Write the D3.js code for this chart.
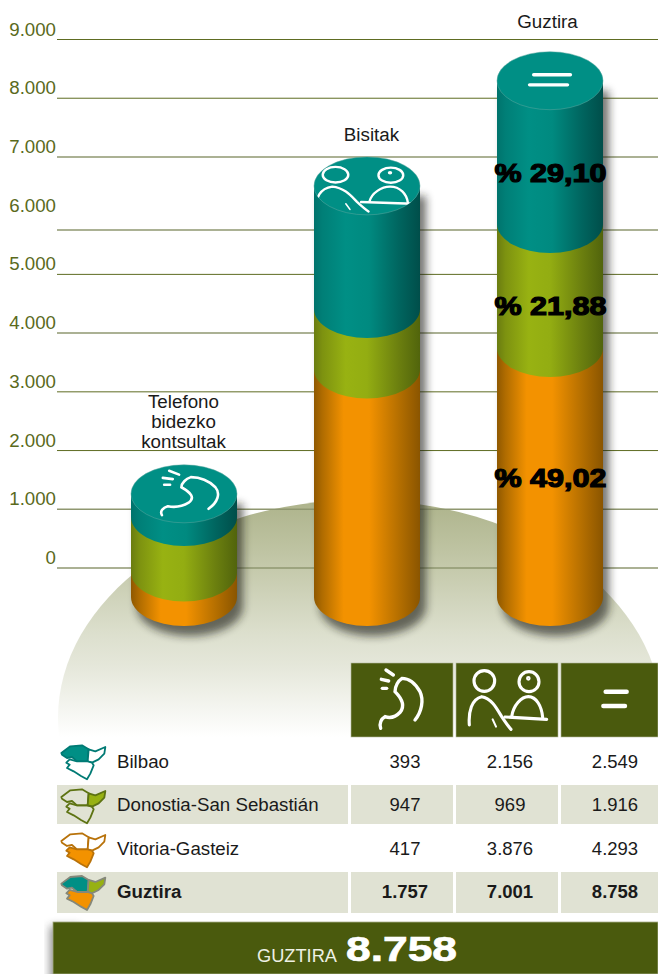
<!DOCTYPE html>
<html>
<head>
<meta charset="utf-8">
<script src="https://d3js.org/d3.v7.min.js"></script>
<style>
html,body{margin:0;padding:0;background:#fff}
svg{display:block}
text{font-family:"Liberation Sans",Arial,sans-serif}
</style>
</head>
<body>
<div id="chart"></div>
<script>
// ---------- data ----------
const barCategories = ["Telefono bidezko kontsultak", "Bisitak", "Guztira"];
const barLabelLines = [["Telefono", "bidezko", "kontsultak"], ["Bisitak"], ["Guztira"]];
// segment heights
const barVitoria  = [417, 3876, 4240];
const barDonostia = [947, 1030, 2112];
const barBilbao   = [393, 2095, 2440];
const percentLabels = ["% 49,02", "% 21,88", "% 29,10"];
const percentValues = [1379, 4309, 6574];
const tickValues = [0, 1000, 2000, 3000, 4000, 5000, 6000, 7000, 8000, 9000];
const gridValues = [0, 1000, 2000, 3000, 4000, 5000, 5756, 7000, 8000, 9000];
const gridDark   = [false, false, true, true, false, true, false, false, true, true];
const rowNames = ["Bilbao", "Donostia-San Sebastián", "Vitoria-Gasteiz", "Guztira"];
const rowBilbao   = [393, 2156, 2549];
const rowDonostia = [947, 969, 1916];
const rowVitoria  = [417, 3876, 4293];
const rowTotal    = [1757, 7001, 8758];
const grandTotalLabel = "GUZTIRA";
const grandTotal = 8758;

// ---------- helpers ----------
const W = 658, H = 974;
const fmt = d3.formatLocale({decimal: ",", thousands: ".", grouping: [3], currency: ["", ""]}).format(",d");
const y = d3.scaleLinear().domain([0, 9000]).range([568, 39.5]);
const x = d3.scalePoint().domain(barCategories).range([184, 550]);
const col = d3.scalePoint().domain([0, 1, 2]).range([405, 615]);
const RX = 53, RY = 29, DEPTH = 29;

const svg = d3.select("#chart").append("svg").attr("width", W).attr("height", H);
const defs = svg.append("defs");

function hGrad(id, stops) {
  const g = defs.append("linearGradient").attr("id", id);
  stops.forEach(s => g.append("stop").attr("offset", s[0]).attr("stop-color", s[1]));
}
hGrad("gOrange", [[0, "#8f5800"], [.08, "#b06c00"], [.28, "#f39200"], [.52, "#f39200"], [.8, "#b56f00"], [1, "#8a5500"]]);
hGrad("gGreen",  [[0, "#6a7c10"], [.08, "#7d9210"], [.3, "#98b212"], [.5, "#93ad12"], [.8, "#6b7f0f"], [1, "#51640c"]]);
hGrad("gTeal",   [[0, "#00736c"], [.08, "#007f77"], [.3, "#008f85"], [.52, "#008a80"], [.8, "#00655f"], [1, "#004e4a"]]);

const hillGrad = defs.append("linearGradient").attr("id", "gHill")
  .attr("gradientUnits", "userSpaceOnUse").attr("x1", 0).attr("x2", 0).attr("y1", 500).attr("y2", 737);
[[0, "#adb38b"], [.22, "#bfc4a3"], [.56, "#dcdfcd"], [.7, "#e5e7da"], [1, "#ffffff"]]
  .forEach(s => hillGrad.append("stop").attr("offset", s[0]).attr("stop-color", s[1]));

const blur = defs.append("filter").attr("id", "fBlur").attr("x", "-40%").attr("y", "-40%").attr("width", "180%").attr("height", "180%");
blur.append("feGaussianBlur").attr("stdDeviation", 4.5);
const blur2 = defs.append("filter").attr("id", "fBlur2").attr("x", "-20%").attr("y", "-60%").attr("width", "140%").attr("height", "220%");
blur2.append("feGaussianBlur").attr("stdDeviation", 4);

// ---------- backdrop hill ----------
defs.append("clipPath").attr("id", "clipHill").append("rect").attr("x", 0).attr("y", 490).attr("width", W).attr("height", 250);
svg.append("g").attr("clip-path", "url(#clipHill)").append("ellipse")
  .attr("cx", 360).attr("cy", 718).attr("rx", 302).attr("ry", 218).attr("fill", "url(#gHill)");

// ---------- grid and axis ----------
svg.append("g").selectAll("line").data(gridValues).join("line")
  .attr("x1", 57).attr("x2", W)
  .attr("y1", d => y(d)).attr("y2", d => y(d))
  .attr("stroke", (d, i) => gridDark[i] ? "#5e6c22" : "#8f9770")
  .attr("stroke-width", (d, i) => gridDark[i] ? 1 : 1.5);

const axis = d3.axisLeft(y).tickValues(tickValues).tickSize(0).tickPadding(0).tickFormat(d => fmt(d));
const axisG = svg.append("g").attr("transform", "translate(56,0)").call(axis);
axisG.select(".domain").remove();
axisG.selectAll("text")
  .attr("font-size", 18.7).attr("fill", "#5a6a1c")
  .attr("font-family", '"Liberation Sans",Arial,sans-serif')
  .attr("dy", "-4.5").attr("x", 0).attr("text-anchor", "end");

// ---------- icons ----------
const iconPhone = [
  {d: "M122 235 C117 220 124 206 135 200 C152 206 168 200 181 186 C196 166 186 146 165 125 C165 108 175 92 186 85 C207 85 226 100 240 125 C252 150 245 185 225 210", w: 2.6},
  {d: "M138 60 L160 75", w: 2.6}, {d: "M124 88 L146 93", w: 2.6}, {d: "M127 115 L140 115", w: 2.6}
];
const iconVisit = [
  {c: [433, 93, 31], w: 2.4}, {c: [567, 95, 30], w: 2.4}, {c: [565, 85, 3], w: 2},
  {d: "M388 225 C385 185 395 147 425 140 C455 145 470 175 485 200 C495 215 505 230 513 238", w: 2.4},
  {d: "M458 208 L468 230", w: 1.6},
  {d: "M515 200 C520 165 545 140 565 140 C590 140 605 170 608 202", w: 2.4},
  {d: "M495 201 L620 208", w: 2.4}
];
const iconEqual = [
  {d: "M797 125 L860 125", w: 3.4}, {d: "M790 168 L855 168", w: 3.4}
];
function drawIcon(parent, parts, ox, oy, px, py, sx, sy, mul) {
  const g = parent.append("g").attr("transform", `translate(${px},${py}) scale(${sx},${sy}) translate(${-ox},${-oy})`);
  parts.forEach(p => {
    const el = p.c
      ? g.append("ellipse").attr("cx", p.c[0]).attr("cy", p.c[1]).attr("rx", p.c[2]).attr("ry", p.c[2])
      : g.append("path").attr("d", p.d);
    el.attr("fill", "none").attr("stroke", "#fff").attr("stroke-width", p.w * mul)
      .attr("stroke-linecap", "round").attr("vector-effect", "non-scaling-stroke");
  });
}

// ---------- cylinders ----------
const series = [
  {vals: barVitoria,  fill: "url(#gOrange)"},
  {vals: barDonostia, fill: "url(#gGreen)"},
  {vals: barBilbao,   fill: "url(#gTeal)"}
];
const iconDefs = [
  {parts: iconPhone, ox: 184, oy: 147, dx: 6,  dy: -1, sx: 0.453, sy: 0.253},
  {parts: iconVisit, ox: 502, oy: 149, dx: -3, dy: 3,  sx: 0.413, sy: 0.253},
  {parts: iconEqual, ox: 825, oy: 146, dx: 0,  dy: -1, sx: 0.583, sy: 0.233}
];
function seg(cx, yTop, yBot) {
  return `M${cx - RX},${yTop} L${cx - RX},${yBot} A${RX},${RY} 0 0 0 ${cx + RX},${yBot} L${cx + RX},${yTop} Z`;
}
const bars = svg.append("g");
barCategories.forEach((cat, i) => {
  const cx = x(cat);
  const total = d3.sum(series, s => s.vals[i]);
  const g = bars.append("g");
  g.append("path")
    .attr("d", seg(cx, y(total) + DEPTH, y(0) + DEPTH))
    .attr("transform", "translate(6,10)")
    .attr("fill", "#1c1f14").attr("opacity", .62).attr("filter", "url(#fBlur)");
  let acc = 0;
  series.forEach(s => {
    const v = s.vals[i];
    g.append("path")
      .attr("d", seg(cx, y(acc + v) + DEPTH, y(acc) + DEPTH))
      .attr("fill", s.fill);
    acc += v;
  });
  const topY = y(acc) + DEPTH;
  g.append("ellipse").attr("cx", cx).attr("cy", topY).attr("rx", RX).attr("ry", RY)
    .attr("fill", "#008f85").attr("stroke", "#5fa8a0").attr("stroke-width", .5);
  const clipId = "clipTop" + i;
  defs.append("clipPath").attr("id", clipId).append("ellipse")
    .attr("cx", cx).attr("cy", topY).attr("rx", RX).attr("ry", RY);
  const ic = iconDefs[i];
  const icG = g.append("g").attr("clip-path", `url(#${clipId})`);
  drawIcon(icG, ic.parts, ic.ox, ic.oy, cx + ic.dx, topY + ic.dy, ic.sx, ic.sy, 1);
});

// bar captions
const captionPos = [[183.5, 408], [371.5, 141], [547.5, 28]];
barLabelLines.forEach((lines, i) => {
  lines.forEach((t, k) => {
    svg.append("text").attr("x", captionPos[i][0]).attr("y", captionPos[i][1] + k * 19.8)
      .attr("text-anchor", "middle").attr("font-size", 18.8).attr("fill", "#1a1a1a").text(t);
  });
});

// percentages
svg.append("g").selectAll("text").data(percentLabels).join("text")
  .attr("x", 550.5).attr("y", (d, i) => y(percentValues[i]))
  .attr("text-anchor", "middle").attr("font-size", 25.5).attr("font-weight", 700)
  .attr("fill", "#000").attr("stroke", "#000").attr("stroke-width", 1.2)
  .attr("textLength", 112).attr("lengthAdjust", "spacingAndGlyphs")
  .text(d => d);

// ---------- table ----------
const table = svg.append("g");
const rowYs = [[745, 782], [785, 824], [827, 869], [872, 913]];
const cellXs = [[57, 348], [351, 453], [456, 558], [561, W]];
rowYs.forEach((r, ri) => {
  if (ri % 2 === 1) {
    cellXs.forEach(c => table.append("rect").attr("x", c[0]).attr("y", r[0])
      .attr("width", c[1] - c[0]).attr("height", r[1] - r[0]).attr("fill", "#e0e2d3"));
  }
});
// header
cellXs.slice(1).forEach(c => {
  table.append("rect").attr("x", c[0]).attr("y", 663).attr("width", c[1] - c[0]).attr("height", 74)
    .attr("fill", "#4a5a0d").attr("stroke", "#b4b99f").attr("stroke-width", .6);
});
[iconPhone, iconVisit, iconEqual].forEach(parts => drawIcon(table, parts, 0, 0, 340, 650, 1 / 3, 1 / 3, 1.3));

// region maps
const mapBiz = "M64 54 L91 34 L126 31 L146 43 L143 79 L111 79 L96 66 L81 69 L66 59 Z";
const mapGip = "M146 43 L166 49 L196 36 L193 56 L176 73 L156 83 L143 79 Z";
const mapAra = "M89 73 L111 79 L143 79 L156 83 L161 91 L151 116 L141 133 L123 123 L101 109 L81 99 L89 89 L79 83 Z";
const mapStyle = [
  {stroke: "#007a74", fills: ["#008f85", "#fff", "#fff"], dy: 0},
  {stroke: "#5d7312", fills: ["none", "#97b112", "none"], dy: 132},
  {stroke: "#b8720a", fills: ["#fff", "#fff", "#f39200"], dy: 264},
  {stroke: "#85887a", fills: ["#008f85", "#97b112", "#f39200"], dy: 392}
];
mapStyle.forEach(m => {
  const g = table.append("g").attr("transform", `translate(40,735) scale(0.3333) translate(0,${m.dy})`);
  [mapBiz, mapGip, mapAra].forEach((d, k) => {
    g.append("path").attr("d", d).attr("fill", m.fills[k]).attr("stroke", m.stroke)
      .attr("stroke-width", 1.8).attr("stroke-linejoin", "round").attr("vector-effect", "non-scaling-stroke");
  });
});

// row text
const rowData = [rowBilbao, rowDonostia, rowVitoria, rowTotal];
const rowBase = [768, 811, 855, 898];
rowNames.forEach((name, ri) => {
  const bold = ri === 3 ? 700 : 400;
  table.append("text").attr("x", 117).attr("y", rowBase[ri]).attr("font-size", 18.7)
    .attr("font-weight", bold).attr("fill", "#1a1a1a").text(name);
  rowData[ri].forEach((v, ci) => {
    table.append("text").attr("x", col(ci)).attr("y", rowBase[ri]).attr("text-anchor", "middle")
      .attr("font-size", 18.5).attr("font-weight", bold).attr("fill", "#1a1a1a").text(fmt(v));
  });
});

// ---------- total band ----------
svg.append("rect").attr("x", 50).attr("y", 926).attr("width", 30).attr("height", 60)
  .attr("fill", "#333").attr("opacity", .55).attr("filter", "url(#fBlur2)");
svg.append("rect").attr("x", 53).attr("y", 922).attr("width", W - 53).attr("height", 52)
  .attr("fill", "#4a5a0d").attr("stroke", "#a8ae8a").attr("stroke-width", .8);
svg.append("text").attr("x", 257).attr("y", 962).attr("font-size", 19).attr("fill", "#eef0e4")
  .attr("textLength", 80).attr("lengthAdjust", "spacingAndGlyphs").text(grandTotalLabel);
svg.append("text").attr("x", 346).attr("y", 961).attr("font-size", 35).attr("font-weight", 700)
  .attr("fill", "#fff").attr("stroke", "#fff").attr("stroke-width", .7)
  .attr("textLength", 111).attr("lengthAdjust", "spacingAndGlyphs").text(fmt(grandTotal));
</script>
</body>
</html>
